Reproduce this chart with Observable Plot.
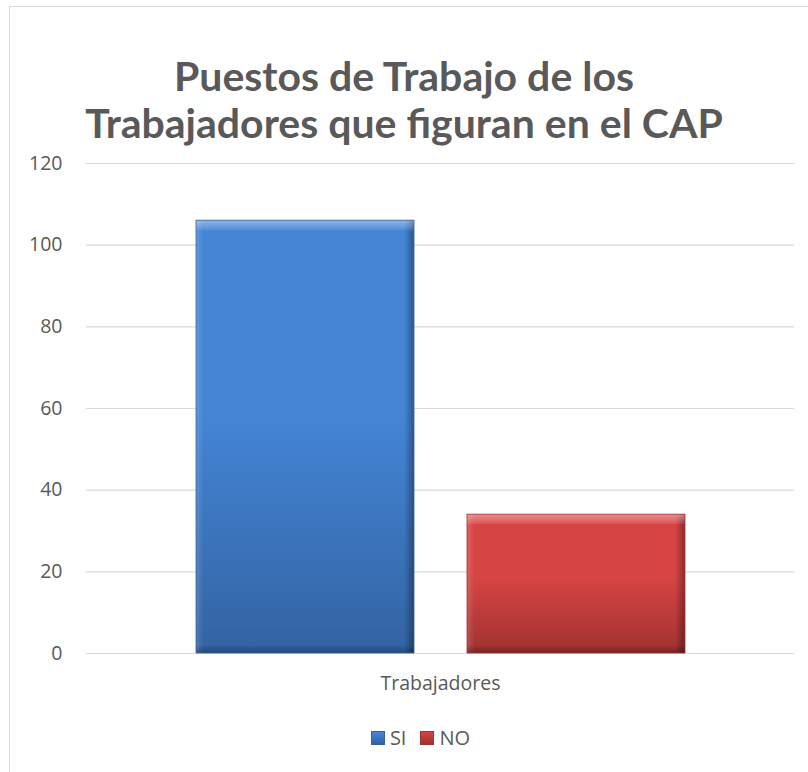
<!DOCTYPE html>
<html>
<head>
<meta charset="utf-8">
<script src="https://cdn.jsdelivr.net/npm/d3@7"></script>
<script src="https://cdn.jsdelivr.net/npm/@observablehq/plot@0.6"></script>
<style>
  html, body { margin: 0; padding: 0; background: #fff; }
  #frame { position: absolute; left: 9px; top: 6px; width: 820px; height: 800px;
           border-left: 1px solid #d9d9d9; border-top: 1px solid #d9d9d9; }
  #title { position: absolute; left: 0; top: 52px; width: 808px; text-align: center;
           font-family: Lato, "Open Sans", sans-serif; font-weight: bold; font-size: 41px;
           line-height: 47px; color: #595959; }
  #chart { position: absolute; left: 0; top: 150px; }
  #legend { position: absolute; left: 0; top: 724px; width: 808px; display: flex;
            justify-content: center; padding-left: 33px; box-sizing: border-box;
            font-family: "Open Sans", Lato, sans-serif; font-size: 20px; color: #595959; }
  .item { display: flex; align-items: center; margin: 0 7px; }
  .sw { width: 14px; height: 14px; margin-right: 5px; box-sizing: border-box; }
</style>
</head>
<body>
<div id="frame"></div>
<div id="title">Puestos de Trabajo de los<br>Trabajadores que figuran en el CAP</div>
<div id="chart"></div>
<div id="legend"></div>
<script>
const categories = ["Trabajadores"];
const series = ["SI", "NO"];
const values = [106, 34];
const yTicks = [0, 20, 40, 60, 80, 100, 120];
const colors = { SI: ["#4485d6", "#3363a3"], NO: ["#d64543", "#a03230"] };

const data = series.map((s, i) => ({ category: categories[0], serie: s, value: values[i] }));

const plot = Plot.plot({
  width: 808,
  height: 560,
  marginTop: 13,
  marginBottom: 57,
  marginLeft: 86,
  marginRight: 14,
  style: { fontFamily: "'Open Sans', Lato, sans-serif", fontSize: "19.5px", color: "#595959", background: "transparent" },
  fx: { domain: categories, padding: 0, label: null, axis: "bottom", tickSize: 0, tickPadding: 23, fontSize: 20 },
  x: { domain: series, paddingInner: 0.1956, paddingOuter: 0.404, axis: null },
  y: { domain: [0, 120], ticks: yTicks, label: null, tickSize: 0, tickPadding: 24 },
  marks: [
    Plot.ruleY(yTicks, { stroke: "#d9d9d9", strokeWidth: 1.2 }),
    Plot.barY(data, { fx: "category", x: "serie", y: "value", fill: d => `url(#grad-${d.serie})` }),
    Plot.barY(data, { fx: "category", x: "serie", y: "value", fill: "url(#bevelH)" }),
    Plot.barY(data, { fx: "category", x: "serie", y: "value", fill: d => `url(#bevelV-${d.serie})`, stroke: d => colors[d.serie][1], strokeWidth: 0.8 })
  ]
});

// gradient definitions
const ns = "http://www.w3.org/2000/svg";
const defs = document.createElementNS(ns, "defs");
function grad(id, vertical, stops) {
  const g = document.createElementNS(ns, "linearGradient");
  g.setAttribute("id", id);
  g.setAttribute("x1", 0); g.setAttribute("y1", 0);
  g.setAttribute("x2", vertical ? 0 : 1); g.setAttribute("y2", vertical ? 1 : 0);
  for (const [o, c, a] of stops) {
    const s = document.createElementNS(ns, "stop");
    s.setAttribute("offset", o); s.setAttribute("stop-color", c); s.setAttribute("stop-opacity", a);
    g.appendChild(s);
  }
  defs.appendChild(g);
}
series.forEach((s, i) => {
  grad(`grad-${s}`, true, [[0, colors[s][0], 1], [0.45, colors[s][0], 1], [1, colors[s][1], 1]]);
  const px = 10 / (values[i] * 4.083);
  grad(`bevelV-${s}`, true, [[0, "#ffffff", 0.4], [px, "#ffffff", 0.08], [px + 0.001, "#ffffff", 0],
                              [1 - px * 0.8, "#000000", 0], [1, "#000000", 0.3]]);
});
grad("bevelH", false, [[0, "#ffffff", 0.15], [0.035, "#ffffff", 0], [0.955, "#000000", 0], [1, "#000000", 0.35]]);
plot.insertBefore(defs, plot.firstChild);
plot.querySelectorAll("text").forEach(t => t.setAttribute("fill", "#595959"));
document.getElementById("chart").appendChild(plot);

// legend
const legend = document.getElementById("legend");
series.forEach(s => {
  const it = document.createElement("div");
  it.className = "item";
  const sw = document.createElement("div");
  sw.className = "sw";
  sw.style.background = `linear-gradient(${colors[s][0]}, ${colors[s][1]})`;
  sw.style.border = `1px solid ${colors[s][1]}`;
  const lab = document.createElement("span");
  lab.textContent = s;
  it.appendChild(sw); it.appendChild(lab);
  legend.appendChild(it);
});
</script>
</body>
</html>
